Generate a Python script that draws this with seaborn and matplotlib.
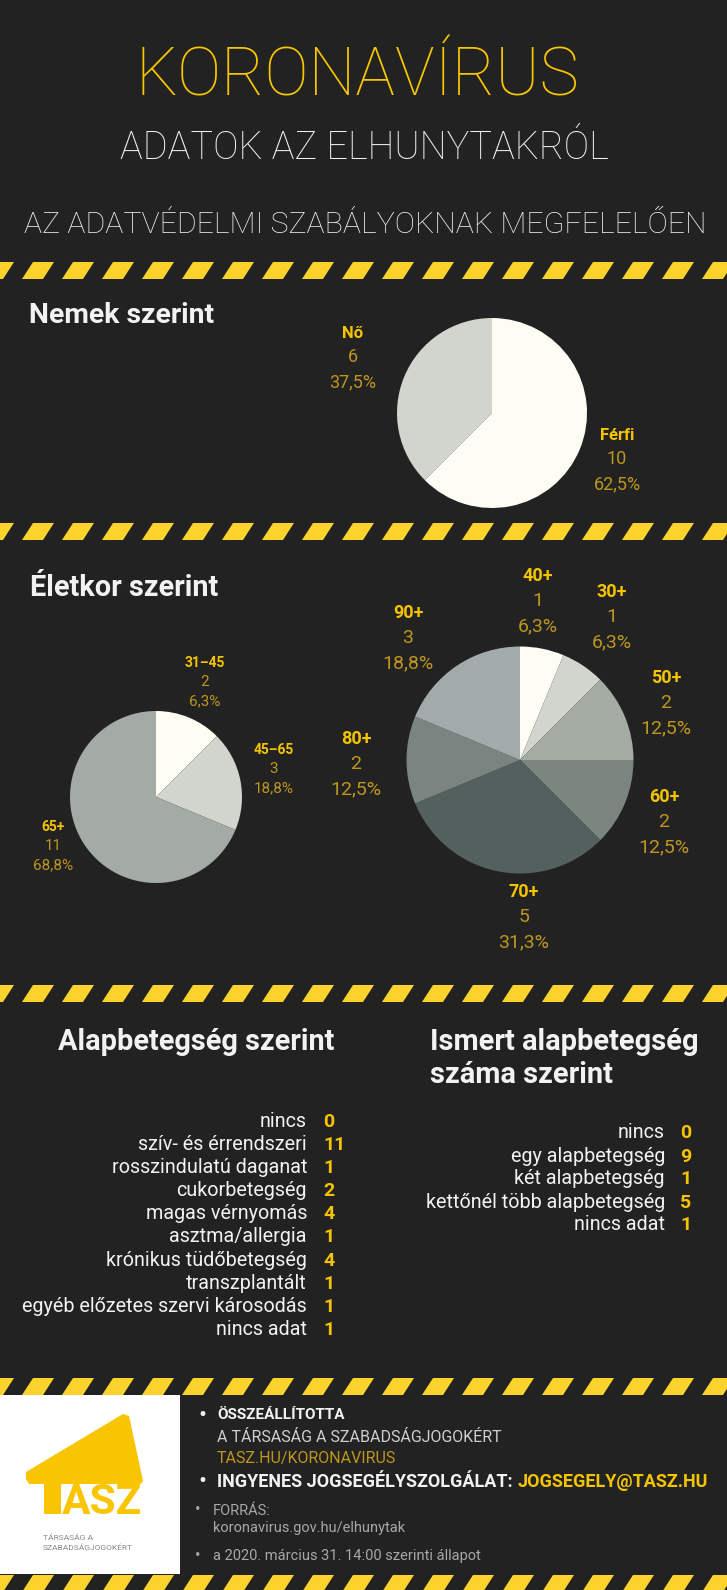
import numpy as np
import matplotlib
matplotlib.use("Agg")
import matplotlib.pyplot as plt
import seaborn as sns
from matplotlib.patches import Polygon, Rectangle
from matplotlib.collections import PolyCollection

# ---- adatok ----
sex_labels = ["Nő", "Férfi"]
sex_counts = [6, 10]
sex_pcts = ["37,5%", "62,5%"]

age3_labels = ["31–45", "45–65", "65+"]
age3_counts = [2, 3, 11]
age3_pcts = ["6,3%", "18,8%", "68,8%"]

age7_labels = ["40+", "30+", "50+", "60+", "70+", "80+", "90+"]
age7_counts = [1, 1, 2, 2, 5, 2, 3]
age7_pcts = ["6,3%", "6,3%", "12,5%", "12,5%", "31,3%", "12,5%", "18,8%"]

disease_labels = ["nincs", "szív- és érrendszeri", "rosszindulatú daganat",
                  "cukorbetegség", "magas vérnyomás", "asztma/allergia",
                  "krónikus tüdőbetegség", "transzplantált",
                  "egyéb előzetes szervi károsodás", "nincs adat"]
disease_counts = [0, 11, 1, 2, 4, 1, 4, 1, 1, 1]

ndis_labels = ["nincs", "egy alapbetegség", "két alapbetegség",
               "kettőnél több alapbetegség", "nincs adat"]
ndis_counts = [0, 9, 1, 5, 1]

# ---- stílus ----
BG = "#222222"
YEL = "#FCD22C"
TITLE_YEL = "#F7C600"
LAB_YEL = "#F5C400"
GOLD = "#BD961E"
WHITE = "#F2F2F0"
GREY = "#A8A8A8"

sex_pal = sns.color_palette(["#D1D5CD", "#FEFDF4"])
age3_pal = sns.color_palette(["#FEFDF4", "#D1D5CD", "#A3ABA4"])
age7_pal = sns.color_palette(["#FEFDF4", "#D1D5CD", "#A4ABA3", "#7A8580",
                              "#53605D", "#7A8582", "#A2ABAB"])

sns.set_theme(style="dark")
plt.rcParams["font.family"] = ["Roboto", "DejaVu Sans"]

W, H = 727, 1590
fig = plt.figure(figsize=(W / 100, H / 100), dpi=100)
fig.patch.set_facecolor(BG)
bg = fig.add_axes([0, 0, 1, 1])
bg.set_xlim(0, W)
bg.set_ylim(H, 0)
bg.axis("off")
bg.set_facecolor(BG)
renderer = fig.canvas.get_renderer()


def fit(t, width):
    w = t.get_window_extent(renderer=renderer).width
    t.set_fontsize(t.get_fontsize() * width / w)


def stripes(y0, y1):
    xs = np.arange(-47, W + 40, 40)
    polys = [[(x, y0), (x + 21, y0), (x + 10, y1), (x - 11, y1)] for x in xs]
    bg.add_collection(PolyCollection(polys, facecolors=YEL, edgecolors="none"))


def pie_axes(cx, cy, r):
    return fig.add_axes([(cx - r) / W, 1 - (cy + r) / H, 2 * r / W, 2 * r / H])


def pie_label(x, y, name, count, pct, size, numsize, step):
    bg.text(x, y, name, color=LAB_YEL, fontsize=size, fontweight="bold",
            ha="center", va="center")
    bg.text(x, y + step, str(count), color=GOLD, fontsize=numsize,
            ha="center", va="center")
    bg.text(x, y + 2 * step, pct, color=GOLD, fontsize=numsize,
            ha="center", va="center")


def header(x, y, s, width):
    t = bg.text(x, y, s, color=WHITE, fontsize=18, fontweight="bold",
                va="baseline")
    fit(t, width)
    return t


# ---- fejléc ----
t = bg.text(357, 96, "KORONAVÍRUS", color=TITLE_YEL, fontsize=50,
            fontweight="light", ha="center", va="baseline")
fit(t, 444)
t = bg.text(364, 159, "ADATOK AZ ELHUNYTAKRÓL", color=WHITE, fontsize=26,
            fontweight="light", ha="center", va="baseline")
fit(t, 488)
t = bg.text(365, 233, "AZ ADATVÉDELMI SZABÁLYOKNAK MEGFELELŐEN", color=WHITE,
            fontsize=22, fontweight="light", ha="center", va="baseline")
fit(t, 680)

for y0 in [262, 523, 985, 1378, 1575]:
    stripes(y0, y0 + 17)

# ---- nemek szerint ----
header(29, 323, "Nemek szerint", 186)
ax = pie_axes(492, 413, 95)
ax.pie(sex_counts, colors=sex_pal, startangle=90, counterclock=True,
       wedgeprops=dict(linewidth=0))
ax.set_xlim(-1, 1)
ax.set_ylim(-1, 1)
sex_pos = [(353, 333), (617, 435)]
for (x, y), n, c, p in zip(sex_pos, sex_labels, sex_counts, sex_pcts):
    pie_label(x, y, n, c, p, 12, 13, 24.5)

# ---- életkor szerint ----
header(30, 596, "Életkor szerint", 188)
ax = pie_axes(156, 797, 86)
ax.pie(age3_counts, colors=age3_pal, startangle=90, counterclock=False,
       wedgeprops=dict(linewidth=0))
ax.set_xlim(-1, 1)
ax.set_ylim(-1, 1)
age3_pos = [(205, 663), (274, 750), (53, 827)]
for (x, y), n, c, p in zip(age3_pos, age3_labels, age3_counts, age3_pcts):
    pie_label(x, y, n, c, p, 10, 11, 19)

ax = pie_axes(520, 760, 113.5)
ax.pie(age7_counts, colors=age7_pal, startangle=90, counterclock=False,
       wedgeprops=dict(linewidth=0))
ax.set_xlim(-1, 1)
ax.set_ylim(-1, 1)
age7_pos = [(538, 576), (612, 592), (666, 678), (664, 797), (524, 892),
            (356, 739), (408, 613)]
for (x, y), n, c, p in zip(age7_pos, age7_labels, age7_counts, age7_pcts):
    pie_label(x, y, n, c, p, 13, 14, 25)

# ---- alapbetegség ----
header(58, 1050, "Alapbetegség szerint", 276)
h = header(430, 1050, "Ismert alapbetegség", 268)
bg.text(430, 1083, "száma szerint", color=WHITE, fontsize=h.get_fontsize(),
        fontweight="bold", va="baseline")

for i, (lab, v) in enumerate(zip(disease_labels, disease_counts)):
    y = 1127 + i * 23.1
    bg.text(307, y, lab, color=WHITE, fontsize=14.2, ha="right", va="baseline")
    bg.text(323, y, str(v), color=LAB_YEL, fontsize=14, fontweight="bold",
            va="baseline")

for i, (lab, v) in enumerate(zip(ndis_labels, ndis_counts)):
    y = 1138.5 + i * 23
    bg.text(665, y, lab, color=WHITE, fontsize=14.2, ha="right", va="baseline")
    bg.text(680, y, str(v), color=LAB_YEL, fontsize=14, fontweight="bold",
            va="baseline")

# ---- lábléc / logó ----
bg.add_patch(Rectangle((0, 1395), 180, 179, facecolor="white", edgecolor="none"))
logo = [(26, 1472), (123, 1414), (129, 1416), (143, 1481), (141, 1484),
        (61, 1484), (61, 1514), (44, 1514), (44, 1484), (29, 1484), (26, 1479)]
bg.add_patch(Polygon(logo, closed=True, facecolor="#F9C400", edgecolor="none"))
t = bg.text(62, 1514, "ASZ", color="#F9C400", fontsize=22, fontweight="bold",
            va="baseline")
fit(t, 80)
bg.text(43, 1540, "TÁRSASÁG A", color="#8A8A8A", fontsize=6, va="baseline")
bg.text(43, 1550, "SZABADSÁGJOGOKÉRT", color="#8A8A8A", fontsize=6,
        va="baseline")

bg.text(202, 1415, "•", color=WHITE, fontsize=17, ha="center", va="center")
bg.text(217, 1419, "ÖSSZEÁLLÍTOTTA", color=WHITE, fontsize=11,
        fontweight="bold", va="baseline")
bg.text(217, 1442, "A TÁRSASÁG A SZABADSÁGJOGOKÉRT", color="#D0D0D0",
        fontsize=11.5, va="baseline")
bg.text(217, 1463, "TASZ.HU/KORONAVIRUS", color=GOLD, fontsize=11.5,
        va="baseline")
bg.text(202, 1482, "•", color=WHITE, fontsize=17, ha="center", va="center")
t = bg.text(217, 1487, "INGYENES JOGSEGÉLYSZOLGÁLAT:", color=WHITE,
            fontsize=11.5, fontweight="bold", va="baseline")
fit(t, 296)
t2 = bg.text(518, 1487, "JOGSEGELY@TASZ.HU", color=LAB_YEL, fontsize=11.5,
             fontweight="bold", va="baseline")
fit(t2, 191)
bg.text(198, 1509, "•", color=GREY, fontsize=12, ha="center", va="center")
bg.text(213, 1515, "FORRÁS:", color=GREY, fontsize=10.5, va="baseline")
bg.text(213, 1532, "koronavirus.gov.hu/elhunytak", color=GREY, fontsize=10.5,
        va="baseline")
bg.text(198, 1555, "•", color=GREY, fontsize=12, ha="center", va="center")
bg.text(213, 1560, "a 2020. március 31. 14:00 szerinti állapot", color=GREY,
        fontsize=10.5, va="baseline")

fig.savefig("out.png", dpi=100, facecolor=fig.get_facecolor())
